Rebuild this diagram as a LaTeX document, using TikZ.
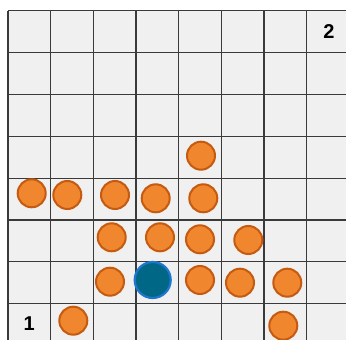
\documentclass[tikz,border=0pt]{standalone}
\usepackage{fontspec}
\setmainfont{Liberation Sans}
\definecolor{cellfill}{HTML}{F0F0F0}
\definecolor{gridline}{HTML}{3A3A3A}
\definecolor{orfill}{HTML}{F0862E}
\definecolor{orline}{HTML}{C55A11}
\definecolor{blfill}{HTML}{006886}
\definecolor{blline}{HTML}{1E76CF}
\tikzset{
  dot/.style={circle, fill=orfill, draw=orline, line width=2pt, minimum size=28pt, inner sep=0pt},
  bigdot/.style={circle, fill=blfill, draw=blline, line width=2.2pt, minimum size=36pt, inner sep=0pt},
  lbl/.style={font=\fontsize{20}{22}\selectfont\bfseries, inner sep=0pt}
}
\begin{document}
\begin{tikzpicture}[x=1pt,y=1pt]
\useasboundingbox (0,0) rectangle (346,340);
\fill[white] (0,0) rectangle (346,340);
\fill[cellfill] (8,0) rectangle (346,329.3);
% vertical lines
\foreach \i in {0,...,7} {
  \draw[gridline, line width=1.2pt] ({8+42.67*\i},0) -- ({8+42.67*\i},329.3);
}
% horizontal lines
\foreach \j in {0,...,7} {
  \draw[gridline, line width=1.2pt] (8,{329.3-41.86*\j}) -- (346,{329.3-41.86*\j});
}
% orange dots
\node[dot] (c1) at (201,184.3) {};
\node[dot] (c2) at (31.7,146.7) {};
\node[dot] (c3) at (67.3,145) {};
\node[dot] (c4) at (115,145) {};
\node[dot] (c5) at (155.7,141.7) {};
\node[dot] (c6) at (203.3,141.7) {};
\node[dot] (c7) at (111.7,102.7) {};
\node[dot] (c8) at (160,102.7) {};
\node[dot] (c9) at (200,100.7) {};
\node[dot] (c10) at (248.3,100) {};
\node[dot] (c11) at (110,58.3) {};
\node[dot] (c12) at (200,60) {};
\node[dot] (c13) at (240,57.3) {};
\node[dot] (c14) at (287.3,57.3) {};
\node[dot] (c15) at (73.3,19.3) {};
\node[dot] (c16) at (283.3,14.3) {};
% blue dot
\node[bigdot] (b) at (152.7,60) {};
% labels
\node[lbl] (l1) at (29.3,16.5) {1};
\node[lbl] (l2) at (329,308.3) {2};
\end{tikzpicture}
\end{document}
